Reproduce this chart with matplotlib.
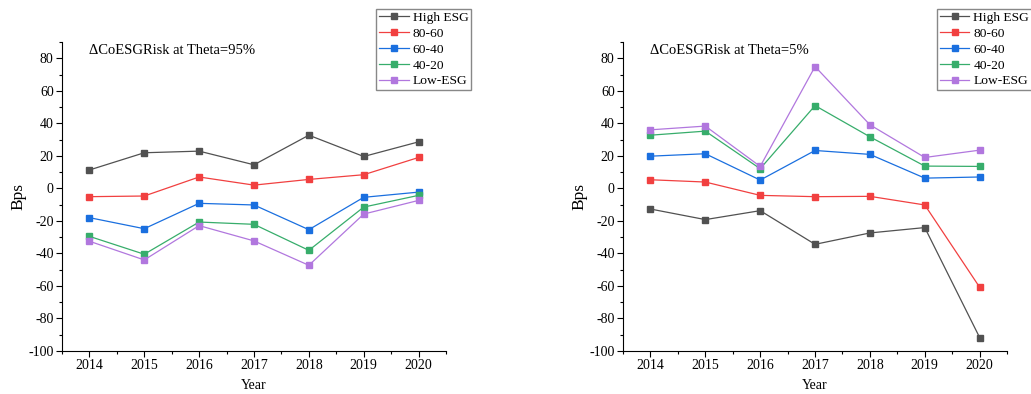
import matplotlib.pyplot as plt
from matplotlib.ticker import MultipleLocator

plt.rcParams['font.family'] = ['Liberation Serif', 'DejaVu Serif']
plt.rcParams['axes.unicode_minus'] = False

years = [2014, 2015, 2016, 2017, 2018, 2019, 2020]
labels = ['High ESG', '80-60', '60-40', '40-20', 'Low-ESG']
colors = ['#515151', '#F14040', '#1A6FDF', '#37AD6B', '#B177DE']

# Theta = 95%
high_95 = [11.3, 21.9, 22.9, 14.5, 32.7, 19.6, 28.6]
q8060_95 = [-5.1, -4.7, 7.0, 2.0, 5.5, 8.4, 19.0]
q6040_95 = [-18.0, -24.8, -9.2, -10.2, -25.4, -5.5, -2.3]
q4020_95 = [-29.5, -40.5, -20.7, -22.1, -38.1, -11.5, -4.3]
low_95 = [-32.5, -44.0, -22.9, -32.3, -47.3, -15.8, -7.4]

# Theta = 5%
high_5 = [-12.7, -19.2, -13.7, -34.4, -27.4, -24.1, -91.7]
q8060_5 = [5.3, 3.9, -4.3, -5.1, -4.9, -10.2, -60.8]
q6040_5 = [19.8, 21.3, 5.1, 23.3, 20.9, 6.3, 7.0]
q4020_5 = [32.7, 35.2, 12.1, 50.9, 31.7, 13.7, 13.5]
low_5 = [36.0, 38.3, 13.5, 74.9, 39.1, 19.0, 23.5]

panels = [
    ('\u0394CoESGRisk at Theta=95%', [high_95, q8060_95, q6040_95, q4020_95, low_95]),
    ('\u0394CoESGRisk at Theta=5%', [high_5, q8060_5, q6040_5, q4020_5, low_5]),
]

fig = plt.figure(figsize=(10.31, 3.94), dpi=100)
ax_pos = [[0.0601, 0.1091, 0.3725, 0.7843], [0.6043, 0.1091, 0.3725, 0.7843]]
leg_anchor = [(471 / 1031, 1 - 9 / 394, 'upper right'), (937 / 1031, 1 - 9 / 394, 'upper left')]

for i, (title, series) in enumerate(panels):
    ax = fig.add_axes(ax_pos[i])
    for vals, lab, c in zip(series, labels, colors):
        ax.plot(years, vals, color=c, marker='s', markersize=4.5, linewidth=0.9, label=lab)
    ax.set_xlim(2013.5, 2020.5)
    ax.set_ylim(-100, 90)
    ax.set_xticks(years)
    ax.xaxis.set_minor_locator(MultipleLocator(0.5))
    ax.yaxis.set_major_locator(MultipleLocator(20))
    ax.yaxis.set_minor_locator(MultipleLocator(10))
    ax.spines['top'].set_visible(False)
    ax.spines['right'].set_visible(False)
    ax.tick_params(which='major', length=4, width=0.8, labelsize=10, pad=2)
    ax.tick_params(which='minor', length=2, width=0.8)
    ax.set_xlabel('Year', fontsize=10, labelpad=5)
    ax.set_ylabel('Bps', fontsize=12.5, labelpad=1)
    ax.text(0.07, 0.995, title, transform=ax.transAxes, fontsize=10.5, va='top', ha='left')
    x, y, loc = leg_anchor[i]
    fig.legend(*ax.get_legend_handles_labels(), loc=loc, bbox_to_anchor=(x, y),
               bbox_transform=fig.transFigure, fontsize=9.7, fancybox=False,
               edgecolor='#888888', framealpha=1, handlelength=2.2, borderpad=0.2,
               labelspacing=0.25, handletextpad=0.3, borderaxespad=0)

fig.savefig('out.png', dpi=100)
